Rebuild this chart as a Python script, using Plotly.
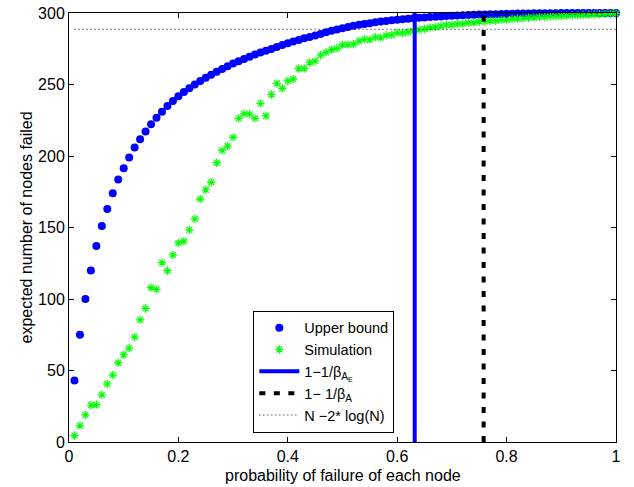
import plotly.graph_objects as go

# ---- data ----
prob = [round(0.01 * i, 2) for i in range(1, 101)]

upper_bound = [
    43, 75, 100, 120, 137, 151, 163, 174, 183.5, 191.5,
    199, 206, 211.8, 217.2, 222.2, 226.8, 231, 235, 238.5, 241.7,
    244.7, 247.4, 250, 252.4, 254.7, 256.9, 258.9, 260.9, 262.8, 264.6,
    266.3, 267.9, 269.4, 270.9, 272.3, 273.6, 274.9, 276.3, 277.6, 278.9,
    280.1, 281.2, 282.3, 283.3, 284.2, 285.4, 286.5, 287.6, 288.5, 289.4,
    290.2, 291.0, 291.7, 292.3, 292.9, 293.5, 294.0, 294.4, 294.9, 295.3,
    295.6, 296.0, 296.3, 296.6, 296.9, 297.2, 297.4, 297.6, 297.9, 298.1,
    298.2, 298.4, 298.6, 298.7, 298.9, 299.0, 299.1, 299.2, 299.3, 299.4,
    299.5, 299.6, 299.65, 299.7, 299.76, 299.8, 299.84, 299.88, 299.9, 299.93,
    299.95, 299.96, 299.98, 299.98, 299.99, 299.99, 300, 300, 300, 300,
]

simulation = [
    4.5, 11.5, 19, 25.7, 26.2, 33, 40.6, 46.8, 55.5, 61,
    65.7, 73.3, 85.4, 93.4, 108, 106.7, 125.4, 119.8, 130.8, 139.2,
    140.4, 148.3, 156, 169.9, 176.4, 181.6, 195.3, 203.9, 206.9, 213,
    226.3, 229.5, 229.3, 226.3, 236.8, 228, 243, 250.7, 247.3, 252.5,
    253.7, 261.2, 261.2, 265.4, 266.3, 270.5, 272.5, 274.4, 275.3, 277.9,
    277.9, 278.1, 280.4, 281.6, 281.4, 283, 282.8, 284.4, 284.6, 286.3,
    286, 286.7, 287.5, 288.3, 288.8, 289.8, 290.2, 290.9, 291.6, 291.8,
    292.3, 292.6, 293.2, 293.3, 293.9, 294.1, 294.6, 294.5, 295.2, 295.4,
    295.8, 296.0, 296.2, 296.7, 296.8, 297.1, 297.2, 297.6, 297.7, 297.9,
    298.1, 298.3, 298.3, 298.6, 298.8, 298.9, 299.1, 299.2, 299.4, 299.5,
]

threshold_AE = 0.632      # 1 - 1/beta_{A_E}
threshold_A = 0.758       # 1 - 1/beta_A
n_minus_2logn = 288.6     # N - 2*log(N), N = 300
y_span = [0, 300]
x_span = [0.01, 1.0]

x_ticks = [0, 0.2, 0.4, 0.6, 0.8, 1]
x_tick_labels = ["0", "0.2", "0.4", "0.6", "0.8", "1"]
y_ticks = [0, 50, 100, 150, 200, 250, 300]

x_title = "probability of failure of each node"
y_title = "expected number of nodes failed"

FONT = "Liberation Sans, Arial, Helvetica, sans-serif"

fig = go.Figure()

fig.add_trace(go.Scatter(
    x=prob, y=upper_bound, mode="markers", name="Upper bound",
    marker=dict(symbol="circle", size=8, color="#0000ff", line=dict(width=0)),
    cliponaxis=False,
))
fig.add_trace(go.Scatter(
    x=prob, y=simulation, mode="markers", name="Simulation",
    marker=dict(symbol="asterisk-open", size=7, color="#00ff00",
                line=dict(width=1.2, color="#00ff00")),
    cliponaxis=False,
))
fig.add_trace(go.Scatter(
    x=[threshold_AE, threshold_AE], y=y_span, mode="lines",
    name="1\u22121/\u03b2<sub>A<sub>E</sub></sub>",
    line=dict(color="#0000ff", width=4),
    cliponaxis=False,
))
fig.add_trace(go.Scatter(
    x=[threshold_A, threshold_A], y=y_span, mode="lines",
    name="1\u2212 1/\u03b2<sub>A</sub>",
    line=dict(color="#000000", width=4, dash="6px,8.5px"),
    cliponaxis=False,
))
fig.add_trace(go.Scatter(
    x=x_span, y=[n_minus_2logn, n_minus_2logn], mode="lines",
    name="N \u22122* log(N)",
    line=dict(color="#000000", width=1, dash="1px,3px"),
))

axis_common = dict(
    showline=True, linecolor="black", linewidth=1, mirror="allticks",
    ticks="inside", ticklen=5, tickcolor="black", tickwidth=1,
    showgrid=False, zeroline=False, automargin=False,
    tickfont=dict(family=FONT, size=16, color="black"),
)

fig.update_xaxes(range=[0, 1], tickvals=x_ticks, ticktext=x_tick_labels,
                 **axis_common)
fig.update_yaxes(range=[0, 300], tickvals=y_ticks, **axis_common)

fig.add_annotation(text=x_title, xref="paper", yref="paper", x=0.5, y=0,
                   xanchor="center", yanchor="middle", yshift=-33,
                   showarrow=False, font=dict(family=FONT, size=16, color="black"))
fig.add_annotation(text=y_title, xref="paper", yref="paper", x=0, y=0.5,
                   xanchor="center", yanchor="middle", xshift=-43, textangle=-90,
                   showarrow=False, font=dict(family=FONT, size=16, color="black"))

fig.update_layout(
    width=634, height=487,
    margin=dict(l=69, r=18, t=13, b=45, autoexpand=False),
    paper_bgcolor="white", plot_bgcolor="white",
    font=dict(family=FONT, size=16, color="black"),
    showlegend=True,
    legend=dict(
        x=0.337, y=0.306, xanchor="left", yanchor="top",
        bgcolor="white", bordercolor="black", borderwidth=1,
        font=dict(family=FONT, size=14.5, color="black"),
        itemwidth=40, tracegroupgap=0,
    ),
)

fig.write_html("out.html")
